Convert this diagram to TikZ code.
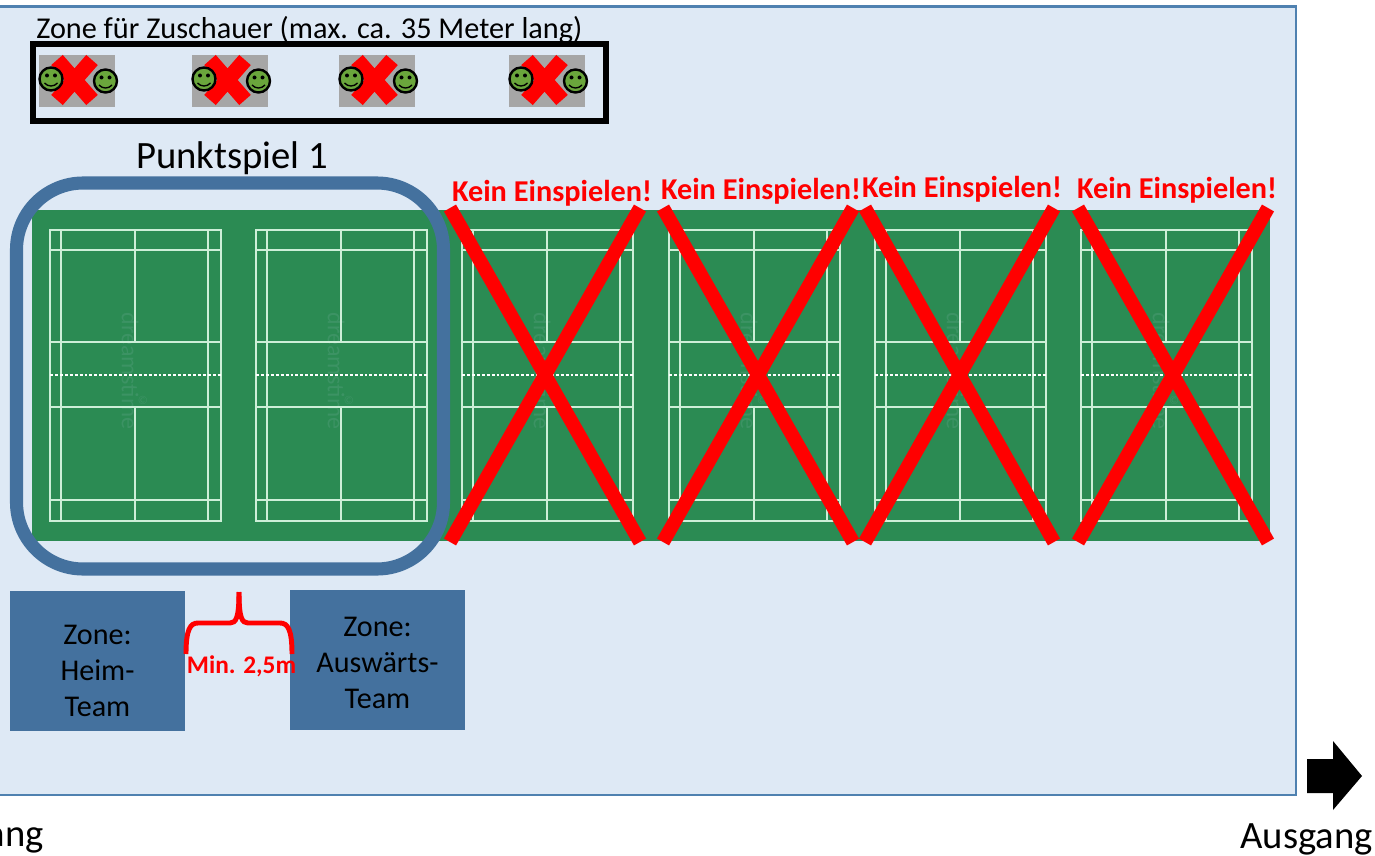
\documentclass[tikz,border=0pt]{standalone}
\usepackage{fontspec}
\setmainfont{Carlito}
\definecolor{hallbg}{HTML}{DEE9F5}
\definecolor{hallln}{HTML}{4F81B0}
\definecolor{zoneblue}{HTML}{44719E}
\definecolor{floorgreen}{HTML}{2B8B53}
\definecolor{courtln}{HTML}{CDEFD8}
\definecolor{wmark}{HTML}{3C9364}
\definecolor{tilegray}{HTML}{A6A6A6}
\definecolor{smile}{HTML}{6AA63C}
\definecolor{xred}{HTML}{FF0000}
\tikzset{
  x=0.75pt,y=-0.75pt,
  courtline/.style={draw=courtln,line width=1.5pt},
  netline/.style={draw=white,line width=1.1pt,dash pattern=on 2.2pt off 1.5pt},
  redx/.style={draw=xred,line width=10.4pt},
  tinyx/.style={draw=xred,line width=11.5pt},
  warn/.style={text=xred,font=\bfseries\fontsize{22.7}{26}\selectfont,inner sep=0pt},
  zonebox/.style={fill=zoneblue,draw=none,minimum width=131.25pt,minimum height=105pt,inner sep=0pt},
  zonetext/.style={inner sep=0pt,align=center,text=black,font=\fontsize{22.6}{27}\selectfont},
  plain/.style={text=black,inner sep=0pt},
  face/.style={fill=smile,draw=black,line width=1.8pt},
  pics/court/.style={code={
    \node[rotate=-90,text=wmark,font=\fontsize{18}{18}\selectfont,inner sep=0pt] at (80,141) {dreamstime};
    \node[text=wmark,font=\fontsize{9}{9}\selectfont,inner sep=0pt] at (93,170) {©};
    \draw[courtline] (0,0) rectangle (171,291);
    \draw[courtline] (11,0) -- (11,291) (158,0) -- (158,291);
    \draw[courtline] (0,20) -- (171,20) (0,112) -- (171,112) (0,177) -- (171,177) (0,270) -- (171,270);
    \draw[courtline] (85,0) -- (85,112) (85,177) -- (85,291);
    \draw[netline] (0,145) -- (171,145);
  }},
  pics/crowd/.style={code={
    \fill[tilegray] (0,0) rectangle (76,52);
    \draw[tinyx] (18,5) -- (53,45) (53,5) -- (18,45);
    \foreach \cx/\cy in {12/24,66.5/26}{
      \draw[face] (\cx,\cy) circle[radius=11.5];
      \fill (\cx-4,\cy-3.5) circle[radius=2] (\cx+4,\cy-3.5) circle[radius=2];
      \draw[line width=1pt] (\cx-6.5,\cy+4) .. controls (\cx-3,\cy+8) and (\cx+3,\cy+8) .. (\cx+6.5,\cy+4);
    }
  }},
}
\begin{document}
\begin{tikzpicture}
\useasboundingbox (0,0) rectangle (1375,856);
\clip (0,0) rectangle (1375,856);
% hall
\draw[fill=hallbg,draw=hallln,line width=1.9pt] (-10,6.5) rectangle (1296,795);
% spectators
\node[plain,anchor=west,font=\fontsize{22.7}{26}\selectfont] (zuschauer) at (36,30) {Zone für Zuschauer (max. ca. 35 Meter lang)};
\draw[draw=black,line width=4.5pt] (33,44) rectangle (606,121);
\pic at (39,55) {crowd};
\pic at (192,55) {crowd};
\pic at (339,55) {crowd};
\pic at (509,55) {crowd};
% floor
\fill[floorgreen] (32,210) rectangle (1270,541);
\foreach \cxx in {50,256,462,669,875,1081}{\pic at (\cxx,230) {court};}
% match frame
\draw[draw=zoneblue,line width=9.8pt,rounded corners=50pt] (16.5,183) rectangle (443.5,569);
\node[plain,font=\fontsize{29}{34}\selectfont] (punktspiel) at (232,158) {Punktspiel 1};
% crosses
\draw[redx] (450,208) -- (640,542) (640,208) -- (450,542);
\draw[redx] (663,208) -- (853,542) (853,208) -- (663,542);
\draw[redx] (865,208) -- (1054,542) (1054,208) -- (865,542);
\draw[redx] (1078,208) -- (1268,542) (1268,208) -- (1078,542);
\node[warn] (kein1) at (552,193) {Kein Einspielen!};
\node[warn] (kein2) at (761,191) {Kein Einspielen!};
\node[warn] (kein3) at (962,189) {Kein Einspielen!};
\node[warn] (kein4) at (1177,190) {Kein Einspielen!};
% team zones
\node[zonebox] (heim) at (97.5,661) {};
\node[zonebox] (auswaerts) at (377.5,660) {};
\node[zonetext] (heimtext) at (97.5,671) {Zone:\\Heim-\\Team};
\node[zonetext] (auswaertstext) at (377.5,663) {Zone:\\Auswärts-\\Team};
% brace
\draw[draw=xred,line width=3.7pt] (186,654) .. controls (186,630) and (190,623) .. (198,623) -- (230,623) .. controls (236,623) and (239,618) .. (239,592);
\draw[draw=xred,line width=3.7pt] (292,654) .. controls (292,630) and (288,623) .. (280,623) -- (248,623) .. controls (242,623) and (239,618) .. (239,592);
\node[text=xred,inner sep=0pt,font=\bfseries\fontsize{19}{22}\selectfont] (minabstand) at (241.5,666) {Min. 2,5m};
% exit
\fill[black] (1307,759) -- (1333,759) -- (1333,741) -- (1362,776) -- (1333,810) -- (1333,793) -- (1307,793) -- cycle;
\node[plain,anchor=east,font=\fontsize{29}{34}\selectfont] (ausgang) at (1373,839) {Ausgang};
\node[plain,anchor=east,font=\fontsize{29}{34}\selectfont] (eingang) at (44,837) {Eingang};
\end{tikzpicture}
\end{document}
